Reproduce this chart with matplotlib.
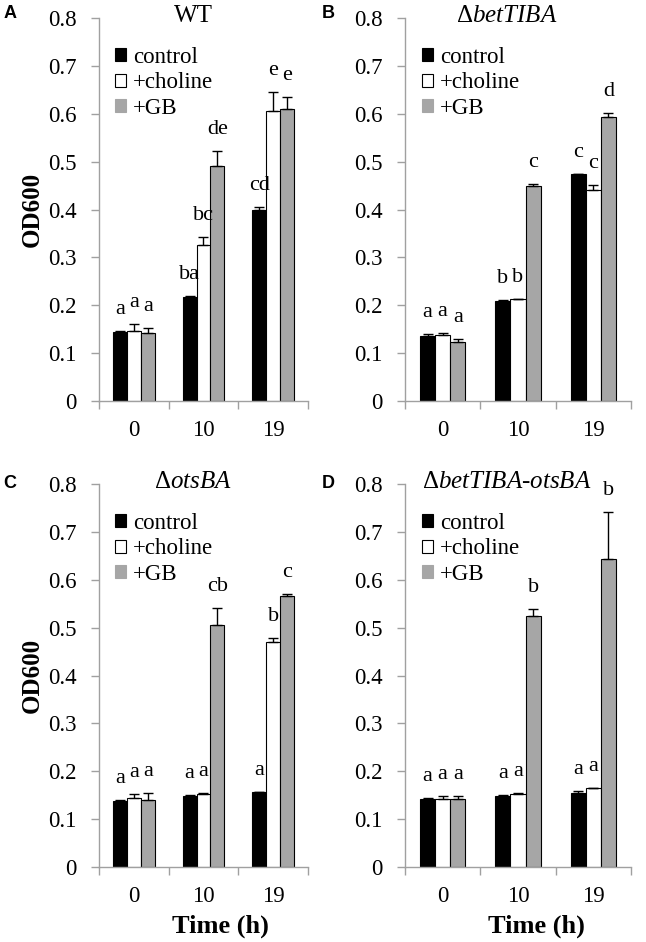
import numpy as np
import matplotlib
matplotlib.use('Agg')
import matplotlib.pyplot as plt
from matplotlib.patches import Patch

plt.rcParams['font.family'] = ['Liberation Serif', 'DejaVu Serif']
plt.rcParams['mathtext.fontset'] = 'custom'
plt.rcParams['mathtext.rm'] = 'Liberation Serif'
plt.rcParams['mathtext.it'] = 'Liberation Serif:italic'

times = ['0', '10', '19']
series = ['control', '+choline', '+GB']
colors = ['black', 'white', '#a6a6a6']

# OD600 means and errors per panel: rows = series, cols = time points
titles = ['WT', r'$\mathrm{\Delta}$betTIBA', r'$\mathrm{\Delta}$otsBA',
          r'$\mathrm{\Delta}$betTIBA-otsBA']
panel_tags = ['A', 'B', 'C', 'D']

wt_mean = [[0.145, 0.218, 0.400], [0.146, 0.325, 0.605], [0.141, 0.490, 0.610]]
wt_err = [[0.002, 0.002, 0.005], [0.015, 0.017, 0.040], [0.011, 0.032, 0.025]]
wt_letters = [['a', 'ba', 'cd'], ['a', 'bc', 'e'], ['a', 'de', 'e']]

bet_mean = [[0.135, 0.208, 0.475], [0.138, 0.213, 0.440], [0.123, 0.450, 0.594]]
bet_err = [[0.005, 0.002, 0.0], [0.005, 0.0, 0.012], [0.007, 0.003, 0.007]]
bet_letters = [['a', 'b', 'c'], ['a', 'b', 'c'], ['a', 'c', 'd']]

ots_mean = [[0.137, 0.149, 0.157], [0.145, 0.153, 0.471], [0.139, 0.505, 0.566]]
ots_err = [[0.002, 0.002, 0.0], [0.007, 0.002, 0.008], [0.016, 0.037, 0.004]]
ots_letters = [['a', 'a', 'a'], ['a', 'a', 'b'], ['a', 'cb', 'c']]

dbl_mean = [[0.143, 0.148, 0.155], [0.142, 0.153, 0.165], [0.142, 0.524, 0.643]]
dbl_err = [[0.002, 0.002, 0.004], [0.007, 0.002, 0.0], [0.007, 0.014, 0.099]]
dbl_letters = [['a', 'a', 'a'], ['a', 'a', 'a'], ['a', 'b', 'b']]

means = [wt_mean, bet_mean, ots_mean, dbl_mean]
errs = [wt_err, bet_err, ots_err, dbl_err]
letters = [wt_letters, bet_letters, ots_letters, dbl_letters]

fig = plt.figure(figsize=(6.46, 9.42), dpi=100)
W, H = 646, 942
boxes = [(99, 18, 308, 401), (405, 18, 631, 401),
         (99, 484, 308, 867), (405, 484, 631, 867)]
tag_pos = [(10, 14), (328, 14), (10, 484), (328, 484)]

axis_gray = '#a0a0a0'
width = 0.2
x = np.arange(len(times))

for p in range(4):
    l, t, r, b = boxes[p]
    ax = fig.add_axes([l / W, 1 - b / H, (r - l) / W, (b - t) / H])
    for s in range(3):
        pos = x + (s - 1) * width
        m = np.array(means[p][s])
        e = np.array(errs[p][s])
        ax.bar(pos, m, width, color=colors[s], edgecolor='black', linewidth=0.8,
               zorder=2)
        ax.errorbar(pos, m, yerr=[np.zeros_like(e), e], fmt='none', ecolor='black',
                    elinewidth=1.0, capsize=3.5, capthick=1.0, zorder=3)
        for i in range(len(times)):
            ax.text(pos[i], m[i] + e[i] + 0.025, letters[p][s][i], ha='center',
                    va='bottom', fontsize=16)

    ax.set_xlim(-0.5, 2.5)
    ax.set_ylim(0, 0.8)
    ax.set_yticks(np.arange(0, 0.81, 0.1))
    ax.set_yticklabels(['0'] + ['%.1f' % v for v in np.arange(0.1, 0.81, 0.1)])
    ax.set_xticks([-0.5, 0.5, 1.5, 2.5])
    ax.set_xticklabels([])
    ax.set_xticks(x, minor=True)
    ax.set_xticklabels(times, minor=True)
    ax.tick_params(axis='x', which='major', direction='out', length=6,
                   color=axis_gray, width=1)
    ax.tick_params(axis='x', which='minor', length=0, pad=14, labelsize=16.5)
    ax.tick_params(axis='y', direction='out', length=6, color=axis_gray, width=1,
                   labelsize=16.5, pad=10)
    for side in ['top', 'right']:
        ax.spines[side].set_visible(False)
    for side in ['left', 'bottom']:
        ax.spines[side].set_color(axis_gray)
        ax.spines[side].set_linewidth(1.0)

    style = 'normal' if p == 0 else 'italic'
    ax.text(0.45, 0.99, titles[p], transform=ax.transAxes, ha='center',
            va='baseline', fontsize=18, style=style)

    if p in (0, 2):
        ax.set_ylabel('OD600', fontsize=18, fontweight='bold', labelpad=3)
    if p in (2, 3):
        ax.text(0.58, -0.155, 'Time (h)', transform=ax.transAxes, ha='center',
                va='center', fontsize=19, fontweight='bold')

    handles = [Patch(facecolor=colors[s], edgecolor='black' if s < 2 else colors[s],
                     linewidth=0.8) for s in range(3)]
    ax.legend(handles, series, loc='upper left', bbox_to_anchor=(0.075, 0.925),
              frameon=False, fontsize=16.5, handlelength=0.5, handleheight=0.5,
              handletextpad=0.3, labelspacing=0.2, borderaxespad=0,
              borderpad=0)

    fig.text(tag_pos[p][0] / W, 1 - tag_pos[p][1] / H, panel_tags[p],
             ha='center', va='center', fontsize=13, fontweight='bold',
             family='Liberation Sans')

fig.savefig('out.png', dpi=100)
